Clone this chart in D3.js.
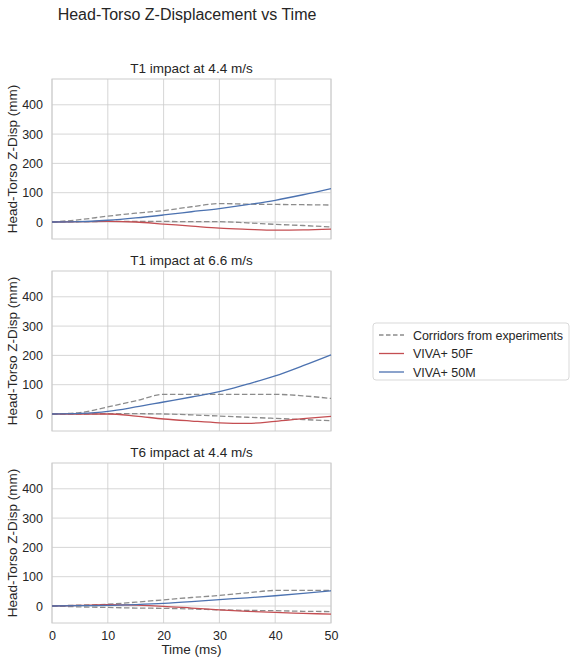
<!DOCTYPE html>
<html>
<head>
<meta charset="utf-8">
<script src="https://cdn.jsdelivr.net/npm/d3@7"></script>
<style>
  body { margin: 0; background: #fff; }
  text { font-family: "Liberation Sans", Arial, sans-serif; fill: #262626; }
</style>
</head>
<body>
<svg id="chart" width="575" height="664"></svg>
<script>
// time samples (ms)
const time = [0, 5, 10, 15, 20, 25, 30, 35, 40, 45, 50];

const titles = ["T1 impact at 4.4 m/s", "T1 impact at 6.6 m/s", "T6 impact at 4.4 m/s"];

// corridors from experiments (upper / lower bound), mm
const corridorUpper = [
  [0, 8, 20, 30, 39, 52, 63, 61, 60, 59, 58],
  [0, 5, 24, 45, 67, 67, 67, 67, 67, 62, 53],
  [0, 3, 6, 13, 21, 29, 36, 45, 53, 53, 53]
];
const corridorLower = [
  [0, 1, 2, 2, 2, 1, 1, -3, -8, -12, -17],
  [0, 0, 1, 1, 0, -3, -7, -11, -15, -19, -23],
  [0, -3, -5, -7, -8, -10, -13, -15, -16, -18, -19]
];
// model responses
const viva50F = [
  [0, 1, 2, 0, -7, -14, -21, -25, -28, -27, -24],
  [0, 0, 0, -7, -17, -24, -30, -32, -25, -16, -8],
  [0, 2, 5, 3, -1, -7, -13, -18, -22, -25, -28]
];
const viva50M = [
  [0, 1, 6, 14, 24, 35, 46, 59, 74, 93, 114],
  [0, 2, 9, 24, 41, 58, 76, 102, 130, 165, 202],
  [0, 1, 2, 5, 9, 15, 22, 28, 35, 43, 52]
];

const xTicks = [0, 10, 20, 30, 40, 50];
const yTicks = [0, 100, 200, 300, 400];

const legendLabels = ["Corridors from experiments", "VIVA+ 50F", "VIVA+ 50M"];
const colors = { corridor: "#8c8c8c", f: "#c44e52", m: "#4c72b0" };

const svg = d3.select("#chart");

const left = 52, right = 331, panelH = 160;
const tops = [79, 271, 463];

const x = d3.scaleLinear().domain([0, 50]).range([left, right]);

svg.append("text")
  .attr("x", 187).attr("y", 20)
  .attr("text-anchor", "middle")
  .style("font-size", "16px")
  .text("Head-Torso Z-Displacement vs Time");

tops.forEach((top, i) => {
  const y = d3.scaleLinear().domain([-58, 488]).range([top + panelH, top]);
  const g = svg.append("g");

  // grid
  g.selectAll(".vg").data(xTicks).enter().append("line")
    .attr("x1", d => x(d)).attr("x2", d => x(d))
    .attr("y1", top).attr("y2", top + panelH)
    .attr("stroke", "#cccccc").attr("stroke-width", 0.8);
  g.selectAll(".hg").data(yTicks).enter().append("line")
    .attr("x1", left).attr("x2", right)
    .attr("y1", d => y(d)).attr("y2", d => y(d))
    .attr("stroke", "#cccccc").attr("stroke-width", 0.8);

  // y axis labels
  const ya = g.append("g").attr("transform", `translate(${left},0)`)
    .call(d3.axisLeft(y).tickValues(yTicks).tickSize(0).tickPadding(9));
  ya.select(".domain").remove();
  ya.selectAll("text").style("font-size", "12.5px").attr("fill", "#262626")
    .style("font-family", '"Liberation Sans", Arial, sans-serif');

  if (i === 2) {
    const xa = g.append("g").attr("transform", `translate(0,${top + panelH})`)
      .call(d3.axisBottom(x).tickValues(xTicks).tickSize(0).tickPadding(8));
    xa.select(".domain").remove();
    xa.selectAll("text").style("font-size", "12.5px").attr("fill", "#262626")
      .style("font-family", '"Liberation Sans", Arial, sans-serif');
    svg.append("text")
      .attr("x", (left + right) / 2).attr("y", top + panelH + 31)
      .attr("text-anchor", "middle").style("font-size", "13.5px")
      .text("Time (ms)");
  }

  // frame
  g.append("rect")
    .attr("x", left).attr("y", top).attr("width", right - left).attr("height", panelH)
    .attr("fill", "none").attr("stroke", "#cccccc").attr("stroke-width", 1);

  // titles
  svg.append("text")
    .attr("x", (left + right) / 2).attr("y", top - 6)
    .attr("text-anchor", "middle").style("font-size", "13.5px")
    .text(titles[i]);
  svg.append("text")
    .attr("transform", `translate(17,${top + panelH / 2}) rotate(-90)`)
    .attr("text-anchor", "middle").style("font-size", "13.5px")
    .text("Head-Torso Z-Disp (mm)");

  const line = d3.line()
    .x((d, j) => x(time[j]))
    .y(d => y(d))
    .curve(d3.curveMonotoneX);

  const series = [
    { v: corridorUpper[i], c: colors.corridor, dash: "5.5,2.5" },
    { v: corridorLower[i], c: colors.corridor, dash: "5.5,2.5" },
    { v: viva50F[i], c: colors.f, dash: null },
    { v: viva50M[i], c: colors.m, dash: null }
  ];
  series.forEach(s => {
    g.append("path")
      .attr("d", line(s.v))
      .attr("fill", "none")
      .attr("stroke", s.c)
      .attr("stroke-width", 1.3)
      .attr("stroke-dasharray", s.dash);
  });
});

// legend
const lg = svg.append("g").attr("transform", "translate(373,323)");
lg.append("rect")
  .attr("width", 196).attr("height", 57).attr("rx", 3)
  .attr("fill", "#fff").attr("stroke", "#d9d9d9").attr("stroke-width", 1);
const legendStyles = [
  { c: colors.corridor, dash: "4.5,2.5" },
  { c: colors.f, dash: null },
  { c: colors.m, dash: null }
];
legendLabels.forEach((lab, i) => {
  const yy = 12 + i * 18.5;
  lg.append("line")
    .attr("x1", 6).attr("x2", 31).attr("y1", yy).attr("y2", yy)
    .attr("stroke", legendStyles[i].c).attr("stroke-width", 1.3)
    .attr("stroke-dasharray", legendStyles[i].dash);
  lg.append("text")
    .attr("x", 40).attr("y", yy + 4.5)
    .style("font-size", "12.5px")
    .attr("textLength", i === 0 ? 150 : null)
    .text(lab);
});
</script>
</body>
</html>
